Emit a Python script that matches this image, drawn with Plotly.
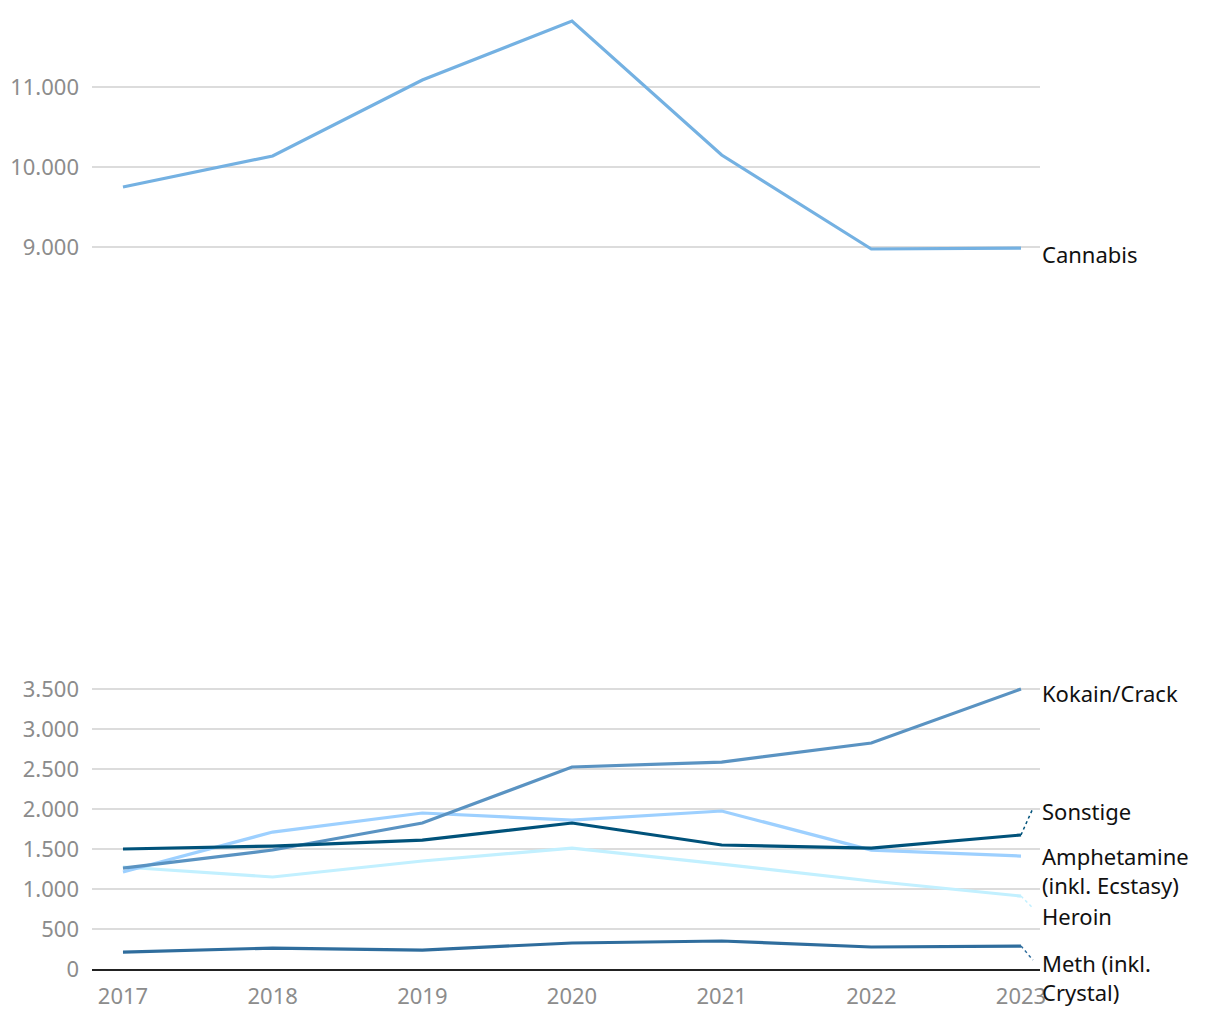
import plotly.graph_objects as go

years = [2017, 2018, 2019, 2020, 2021, 2022, 2023]
cannabis = [9750, 10137, 11087, 11825, 10150, 8975, 8987]
kokain = [1262, 1487, 1825, 2525, 2587, 2825, 3500]
sonstige = [1500, 1537, 1612, 1825, 1550, 1512, 1675]
amphetamine = [1212, 1712, 1950, 1862, 1975, 1487, 1412]
heroin = [1275, 1150, 1350, 1512, 1312, 1100, 912]
meth = [212, 262, 237, 325, 350, 275, 287]

top_ticks = [9000, 10000, 11000]
bottom_ticks = [0, 500, 1000, 1500, 2000, 2500, 3000, 3500]

C_CANNABIS = "#74b1e2"
C_KOKAIN = "#5a93c2"
C_SONSTIGE = "#00527a"
C_AMPH = "#9dd0ff"
C_HEROIN = "#c2f0ff"
C_METH = "#2f6d9d"

FONT = "Noto Sans"
TICK_COLOR = "#8c8c8c"
LABEL_SIZE = 22
TICK_SIZE = 22

BOTTOM_MAX = 3750

fig = go.Figure()

fig.add_trace(go.Scatter(x=years, y=cannabis, mode="lines", line=dict(color=C_CANNABIS, width=3.2),
                         xaxis="x2", yaxis="y2", name="Cannabis"))
bottom_series = [
    ("Meth (inkl. Crystal)", meth, C_METH),
    ("Heroin", heroin, C_HEROIN),
    ("Amphetamine", amphetamine, C_AMPH),
    ("Kokain/Crack", kokain, C_KOKAIN),
    ("Sonstige", sonstige, C_SONSTIGE),
]
for name, vals, col in bottom_series:
    fig.add_trace(go.Scatter(x=years, y=vals, mode="lines", line=dict(color=col, width=3.2),
                             xaxis="x", yaxis="y", name=name))

# leader lines (dotted) from last point to label
last = years[-1]
leaders = [
    (sonstige[-1], 2010, C_SONSTIGE),
    (heroin[-1], 760, C_HEROIN),
    (meth[-1], 112, C_METH),
]
for y0, y1, col in leaders:
    fig.add_shape(type="line", xref="x", yref="y", x0=last, y0=y0, x1=last + 0.08, y1=y1,
                  line=dict(color=col, width=1.5, dash="dot"))

# labels
labels = [
    ("Cannabis", 8912, "y2"),
    ("Kokain/Crack", 3450, "y"),
    ("Sonstige", 1975, "y"),
    ("Amphetamine<br>(inkl. Ecstasy)", 1225, "y"),
    ("Heroin", 660, "y"),
]
for txt, yv, yref in labels:
    fig.add_annotation(text=txt, xref="paper", x=1.0, xanchor="left", xshift=0,
                       yref=yref, y=yv, yanchor="middle", showarrow=False, align="left",
                       font=dict(family=FONT, size=LABEL_SIZE, color="#111111"))
# Meth label sits below the zero line -> place in axis-domain coordinates
fig.add_annotation(text="Meth (inkl.<br>Crystal)", xref="paper", x=1.0, xanchor="left",
                   yref="y domain", y=-112 / BOTTOM_MAX, yanchor="middle", showarrow=False,
                   align="left", font=dict(family=FONT, size=LABEL_SIZE, color="#111111"))

xr = [2016.793, 2023.127]
fig.update_layout(
    width=1220, height=1020,
    margin=dict(l=84, r=188, t=2, b=59, autoexpand=False),
    paper_bgcolor="white", plot_bgcolor="white",
    showlegend=False,
    separators=",.",
    font=dict(family=FONT),
    xaxis=dict(range=xr, anchor="y", tickvals=years, showgrid=False, zeroline=False,
               showline=True, linecolor="#222222", linewidth=2, ticklabelstandoff=7,
               tickfont=dict(family=FONT, size=TICK_SIZE, color=TICK_COLOR), ticks=""),
    xaxis2=dict(range=xr, anchor="y2", matches="x", showticklabels=False, showgrid=False,
                zeroline=False, showline=False),
    yaxis=dict(domain=[0, 300 / 959], range=[0, BOTTOM_MAX], tickvals=bottom_ticks, tickformat=",d",
               showgrid=True, gridcolor="#dcdcdc", gridwidth=2, zeroline=False, showline=False,
               ticks="", ticklabelstandoff=12,
               tickfont=dict(family=FONT, size=TICK_SIZE, color=TICK_COLOR)),
    yaxis2=dict(domain=[(959 - 269) / 959, 1], range=[8600, 11962.5], tickvals=top_ticks,
                tickformat=",d", showgrid=True, gridcolor="#dcdcdc", gridwidth=2, zeroline=False,
                showline=False, ticks="", ticklabelstandoff=12,
                tickfont=dict(family=FONT, size=TICK_SIZE, color=TICK_COLOR)),
)

fig.write_html("out.html")
